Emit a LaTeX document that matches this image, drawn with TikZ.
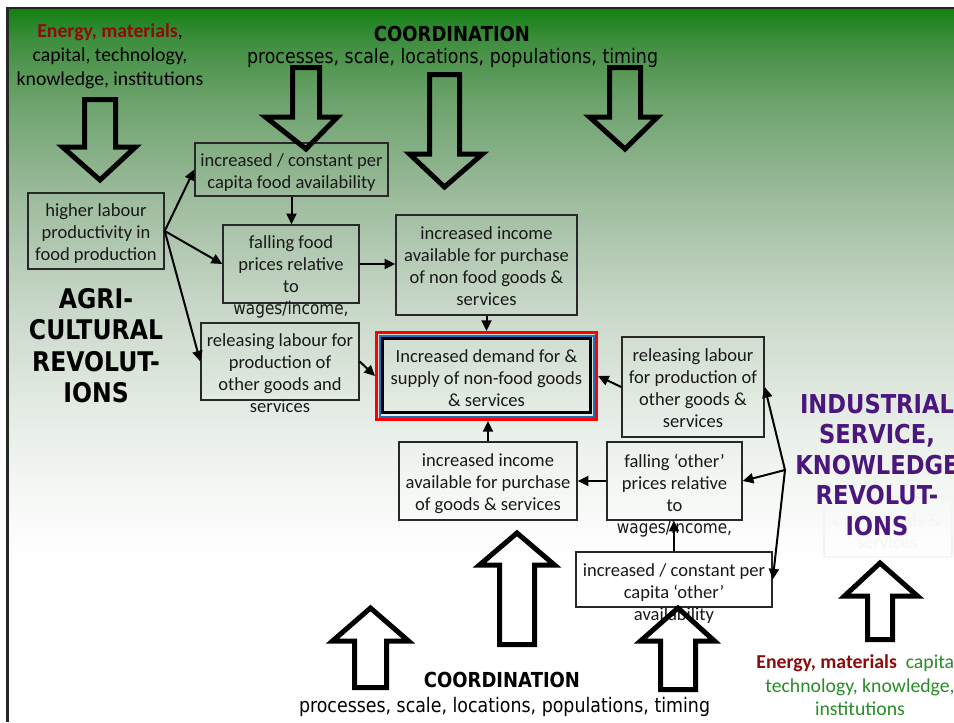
\documentclass[tikz,border=0pt]{standalone}
\usepackage{fontspec}
\setmainfont{Carlito}
\newfontfamily\tahfont[FakeStretch=0.87]{DejaVu Sans}
\usetikzlibrary{arrows.meta}

% background gradient stops (top to bottom)
\definecolor{bgA}{RGB}{18,128,18}
\definecolor{bgB}{RGB}{62,142,62}
\definecolor{bgC}{RGB}{108,162,108}
\definecolor{bgD}{RGB}{158,188,158}
\definecolor{bgE}{RGB}{198,214,198}
\definecolor{bgF}{RGB}{226,234,226}
\definecolor{bgG}{RGB}{243,246,243}
% text and line colours
\definecolor{darkred}{RGB}{140,12,12}
\definecolor{midgreen}{RGB}{40,140,40}
\definecolor{revpurple}{RGB}{75,22,125}
\definecolor{boxline}{RGB}{40,40,40}
\definecolor{ringblue}{RGB}{30,110,190}
\definecolor{ghostline}{RGB}{244,244,244}
\definecolor{ghosttext}{RGB}{245,245,245}

\newcommand\wagesinc{{\tahfont\fontsize{13.2pt}{16.5pt}\selectfont wages/income,}}
% hollow block arrow: shaft x1,x2; tail y; wing x1,x2; wing y; tip x,y
\newcommand\hollowarr[8]{%
  \draw[hollow] (#1,#3) -- (#1,#6) -- (#4,#6) -- (#7,#8) -- (#5,#6) -- (#2,#6) -- (#2,#3) -- cycle;}

\begin{document}
\begin{tikzpicture}[x=0.75pt,y=-0.75pt,
  box/.style={draw=boxline, line width=1.1pt, inner sep=0pt},
  boxwh/.style 2 args={minimum width=#1*0.75pt, minimum height=#2*0.75pt},
  txt/.style={align=center, inner sep=0pt, text=black!90,
    font=\fontsize{13.9pt}{16.5pt}\selectfont,
    execute at begin node=\strut, execute at end node=\strut},
  lbl/.style={align=center, inner sep=0pt,
    font=\fontsize{14.8pt}{18pt}\selectfont,
    execute at begin node=\strut, execute at end node=\strut},
  revtitle/.style={align=center, inner sep=0pt,
    execute at begin node=\strut, execute at end node=\strut},
  conn/.style={line width=1.5pt, -{Triangle[length=8pt,width=7.5pt]}},
  hollow/.style={draw=black, line width=3.75pt, line join=miter},
]
\useasboundingbox (0,0) rectangle (954,722);
\clip (0,0) rectangle (954,722);
\fill[white] (0,0) rectangle (954,722);

% green-to-white backdrop
\shade[top color=bgA, bottom color=bgB] (8,8) rectangle (954,40.4);
\shade[top color=bgB, bottom color=bgC] (8,40) rectangle (954,100.4);
\shade[top color=bgC, bottom color=bgD] (8,100) rectangle (954,200.4);
\shade[top color=bgD, bottom color=bgE] (8,200) rectangle (954,300.4);
\shade[top color=bgE, bottom color=bgF] (8,300) rectangle (954,400.4);
\shade[top color=bgF, bottom color=bgG] (8,400) rectangle (954,480.4);
\shade[top color=bgG, bottom color=white] (8,480) rectangle (954,560);
\draw[line width=1.9pt, black!85] (7.5,722) -- (7.5,8) -- (954,8);

% inputs and coordination labels
\node[lbl] (inputsL) at (110,58.5)
  {{\color{darkred}\bfseries Energy, materials},\\capital, technology,\\knowledge, institutions};
\node[font=\tahfont\bfseries\fontsize{15.5pt}{18pt}\selectfont, inner sep=0pt] (coordT) at (452,33.5) {COORDINATION};
\node[font=\tahfont\fontsize{15pt}{18pt}\selectfont, inner sep=0pt] (procT) at (452.5,58) {processes, scale, locations, populations, timing};
\node[font=\tahfont\bfseries\fontsize{15.5pt}{18pt}\selectfont, inner sep=0pt] (coordB) at (502,680) {COORDINATION};
\node[font=\tahfont\fontsize{15pt}{18pt}\selectfont, inner sep=0pt] (procB) at (504.5,707) {processes, scale, locations, populations, timing};
\node[lbl, text=midgreen, font=\fontsize{14.8pt}{17.6pt}\selectfont] (inputsR) at (860,689)
  {{\color{darkred}\bfseries Energy, materials}\ \ capital,\\technology, knowledge,\\institutions};

% revolution titles
\node[draw=ghostline, line width=0.8pt, boxwh={128}{60}] (ghost) at (888,527) {};
\node[txt, text=ghosttext] (ghosttxt) at (887,534) {other goods \&\\services};
\node[revtitle, font=\tahfont\bfseries\fontsize{20.3pt}{23.5pt}\selectfont] (agri) at (96,350)
  {AGRI-\\CULTURAL\\REVOLUT-\\IONS};
\node[revtitle, text=revpurple, font=\tahfont\bfseries\fontsize{19.5pt}{22.9pt}\selectfont] (indus) at (877,469)
  {INDUSTRIAL\\SERVICE,\\KNOWLEDGE\\REVOLUT-\\IONS};

% agricultural chain
\node[box, boxwh={136}{76}] (b0) at (96,231) {};
\node[txt] (t0) at (96,235) {higher labour\\productivity in\\food production};
\node[box, boxwh={193}{53}] (b1) at (291.5,169.5) {};
\node[txt] (t1) at (291.5,174) {increased / constant per\\capita food availability};
\node[box, boxwh={136}{78}] (b2) at (291,264) {};
\node[txt] (t2) at (291,278.5) {falling food\\prices relative\\to\\\wagesinc};
\node[box, boxwh={181}{100}] (b3) at (486.5,265) {};
\node[txt] (t3) at (486.5,269) {increased income\\available for purchase\\of non food goods \&\\services};
\node[box, boxwh={158}{77}] (b4) at (280,361.5) {};
\node[txt] (t4) at (280,376) {releasing labour for\\production of\\other goods and\\services};

% central outcome with triple frame
\node[draw=red, line width=2.25pt, inner sep=0pt, boxwh={220}{87}] (demand) at (486.5,376) {};
\node[draw=ringblue, line width=1.5pt, inner sep=0pt, boxwh={214}{81}] (ring) at (486.5,376) {};
\node[draw=black, line width=2.25pt, inner sep=0pt, boxwh={208.6}{74.6}] (core) at (486.5,375.5) {};
\node[txt] (tc) at (486.5,381) {Increased demand for \&\\supply of non-food goods\\\& services};

% industrial / service chain
\node[box, boxwh={142}{100}] (b5) at (693,387) {};
\node[txt] (t5) at (693,391) {releasing labour\\for production of\\other goods \&\\services};
\node[box, boxwh={135}{78}] (b6) at (674.5,481) {};
\node[txt] (t6) at (674.5,497) {falling ‘other’\\prices relative\\to\\\wagesinc};
\node[box, boxwh={178}{78}] (b7) at (488,481) {};
\node[txt] (t7) at (488,485) {increased income\\available for purchase\\of goods \& services};
\node[box, boxwh={196}{55}] (b8) at (674,579.5) {};
\node[txt] (t8) at (674,595) {increased / constant per\\capita ‘other’\\availability};

% hollow block arrows
\hollowarr{84.5}{115.5}{99.5}{62.5}{135.5}{147}{100}{180}
\hollowarr{292.5}{319.5}{67.5}{265.5}{337.5}{117}{306}{149}
\hollowarr{429.5}{459.5}{74.5}{409.5}{482.5}{154}{444.5}{187}
\hollowarr{609.5}{640.5}{67.5}{589.5}{657.5}{117}{625}{149}
\hollowarr{354.5}{386.5}{687.5}{332.5}{408.5}{641}{370.5}{608}
\hollowarr{499.5}{534.5}{644.5}{479.5}{554.5}{565}{517}{533}
\hollowarr{660.5}{695.5}{689.5}{640.5}{714.5}{641}{678}{608}
\hollowarr{867.5}{892.5}{639.5}{844.5}{917.5}{596}{880}{563}

% connectors
\draw[conn] (b0.east) -- (b1.west);
\draw[conn] (b0.east) -- (b2.west);
\draw[conn] (b0.east) -- (b4.west);
\draw[conn] (b1.south) -- (b1.south |- b2.north);
\draw[conn] (b2.east) -- (b2.east -| b3.west);
\draw[conn] (b3.south) -- (b3.south |- demand.north);
\draw[conn] (b4.east) -- (demand.west);
\draw[conn] (b5.west) -- (demand.east);
\draw[conn] (b7.north) -- (b7.north |- demand.south);
\draw[conn] (b6.west) -- (b6.west -| b7.east);
\draw[conn] (b8.north) -- (b8.north |- b6.south);
\coordinate (fan) at (785,470);
\draw[conn] (fan) -- (b5.east);
\draw[conn] (fan) -- (b6.east);
\draw[conn] (fan) -- (b8.east);
\end{tikzpicture}
\end{document}
